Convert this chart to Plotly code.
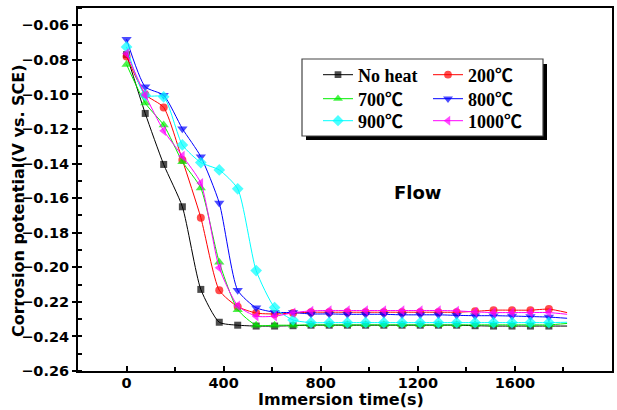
import plotly.graph_objects as go

# ---------------- data ----------------
times = [0, 77, 153, 230, 306, 382, 458, 534, 610, 686, 760, 835, 910, 985,
         1060, 1135, 1210, 1285, 1360, 1436, 1512, 1588, 1664, 1740]
t_end = 1815

no_heat = [-0.077, -0.111, -0.1405, -0.165, -0.2128, -0.2318, -0.2335, -0.234,
           -0.234, -0.2338, -0.2335, -0.2335, -0.2335, -0.2335, -0.2335, -0.2335,
           -0.2335, -0.2335, -0.2335, -0.2338, -0.234, -0.234, -0.234, -0.234]
no_heat_end = -0.234

c200 = [-0.078, -0.100, -0.1075, -0.138, -0.1713, -0.2133, -0.2228, -0.2265,
        -0.227, -0.2265, -0.226, -0.226, -0.226, -0.226, -0.226, -0.226,
        -0.226, -0.226, -0.226, -0.2255, -0.2248, -0.2248, -0.2248, -0.2242]
c200_end = -0.2262

c700 = [-0.0827, -0.105, -0.1177, -0.1389, -0.1542, -0.1971, -0.2245, -0.2335,
        -0.2335, -0.2335, -0.2333, -0.2333, -0.2333, -0.2333, -0.2333, -0.2333,
        -0.2333, -0.2333, -0.2333, -0.2333, -0.2333, -0.2333, -0.2333, -0.2333]
c700_end = -0.2325

c800 = [-0.0681, -0.0956, -0.1005, -0.1198, -0.136, -0.1628, -0.2133, -0.2234,
        -0.226, -0.2262, -0.227, -0.227, -0.2272, -0.2272, -0.2272, -0.2275,
        -0.2275, -0.2275, -0.2278, -0.228, -0.228, -0.2282, -0.2285, -0.2288]
c800_end = -0.2295

c900 = [-0.0725, -0.1005, -0.1014, -0.1292, -0.1394, -0.1437, -0.1546, -0.2019,
        -0.2233, -0.2305, -0.232, -0.232, -0.232, -0.232, -0.232, -0.232,
        -0.232, -0.232, -0.232, -0.232, -0.232, -0.232, -0.232, -0.232]
c900_end = -0.2318

c1000 = [-0.0763, -0.1004, -0.121, -0.1356, -0.1513, -0.2003, -0.2222, -0.2283,
         -0.2283, -0.2263, -0.2252, -0.225, -0.225, -0.225, -0.225, -0.225,
         -0.225, -0.225, -0.2252, -0.2258, -0.2262, -0.2262, -0.2262, -0.2262]
c1000_end = -0.2272

names = ["No heat", "200℃", "700℃", "800℃", "900℃", "1000℃"]
series = [no_heat, c200, c700, c800, c900, c1000]
ends = [no_heat_end, c200_end, c700_end, c800_end, c900_end, c1000_end]
colors = ["#000000", "#ff0000", "#00ee00", "#0000ff", "#00ffff", "#ff00ff"]
symbols = ["square", "circle", "triangle-up", "triangle-down", "diamond", "triangle-left"]
msizes = [7, 8, 9, 9, 9, 9]
legend_ids = ["legend", "legend2", "legend3", "legend4", "legend5", "legend6"]

# ---------------- layout geometry (pixels) ----------------
W, H = 617, 410
L, R, T, B = 78, 5, 8, 39
PW, PH = W - L - R, H - T - B


def px(x):
    return (x - L) / PW


def py(y):
    return 1 - (y - T) / PH


fig = go.Figure()
for name, vals, end, col, sym, ms, lg in zip(names, series, ends, colors, symbols, msizes, legend_ids):
    fig.add_trace(go.Scatter(
        x=times + [t_end], y=vals + [end], name=name, mode="lines+markers",
        line=dict(color=col, width=1, shape="spline", smoothing=0.6),
        marker=dict(symbol=sym, color=col, size=[ms] * len(times) + [0], line=dict(width=0)),
        legend=lg,
    ))

# legend positions: (x of symbol start - 5, y centre of row)
leg_pos = [(318, 75), (428, 75), (318, 99), (428, 99), (318, 121), (428, 121)]
leg_font = dict(family="Liberation Serif, Noto Sans CJK SC, serif", size=18, color="black", weight="bold")
legend_layouts = {}
for lg, (lx, ly) in zip(legend_ids, leg_pos):
    legend_layouts[lg] = dict(x=px(lx), y=py(ly), xanchor="left", yanchor="middle",
                              bgcolor="rgba(0,0,0,0)", borderwidth=0, font=leg_font,
                              itemwidth=30)

tick_font = dict(family="DejaVu Sans", size=14.5, color="black", weight="bold")
title_font = dict(family="DejaVu Sans", size=16, color="black", weight="bold")

fig.update_layout(
    width=W, height=H, margin=dict(l=L, r=R, t=T, b=B, autoexpand=False),
    paper_bgcolor="white", plot_bgcolor="white", template="none",
    showlegend=True,
    xaxis=dict(range=[-200, 2000], tickvals=[0, 400, 800, 1200, 1600, 2000],
               ticks="inside", ticklen=5, tickwidth=1.5, tickcolor="black",
               minor=dict(ticks="inside", ticklen=4, tickwidth=1.5, dtick=200, tick0=0, tickcolor="black"),
               showline=True, linewidth=2, linecolor="black", mirror=True, ticklabelstandoff=-2,
               showgrid=False, zeroline=False, tickfont=tick_font, automargin=False),
    yaxis=dict(range=[-0.26, -0.05], tickvals=[-0.26, -0.24, -0.22, -0.20, -0.18, -0.16, -0.14, -0.12, -0.10, -0.08, -0.06],
               tickformat=".2f", ticks="outside", ticklen=4, tickwidth=1.5, tickcolor="black",
               minor=dict(ticks="inside", ticklen=4, tickwidth=1.5, dtick=0.01, tick0=-0.26, tickcolor="black"),
               showline=True, linewidth=2, linecolor="black", mirror=True,
               showgrid=False, zeroline=False, tickfont=tick_font, automargin=False),
    shapes=[
        dict(type="rect", xref="paper", yref="paper", x0=px(306), x1=px(547), y0=py(140), y1=py(64),
             fillcolor="black", line=dict(width=0), layer="above"),
        dict(type="rect", xref="paper", yref="paper", x0=px(302), x1=px(543), y0=py(136), y1=py(59),
             fillcolor="white", line=dict(color="#444444", width=1.2), layer="above"),
    ],
    annotations=[
        dict(text="Corrosion potential(V vs. SCE)", xref="paper", yref="paper", x=px(18), y=py(201),
             textangle=-90, showarrow=False, font=title_font, xanchor="center", yanchor="middle"),
        dict(text="Immersion time(s)", xref="paper", yref="paper", x=px(341), y=py(399.5),
             showarrow=False, font=title_font, xanchor="center", yanchor="middle"),
        dict(text="Flow", xref="paper", yref="paper", x=px(417), y=py(192),
             showarrow=False, font=dict(family="DejaVu Sans", size=18, color="black", weight="bold"),
             xanchor="center", yanchor="middle"),
    ],
    **legend_layouts,
)

fig.write_html("out.html", config={"displayModeBar": False},
               post_script="document.body.style.margin='0px';document.body.style.overflow='hidden';")
